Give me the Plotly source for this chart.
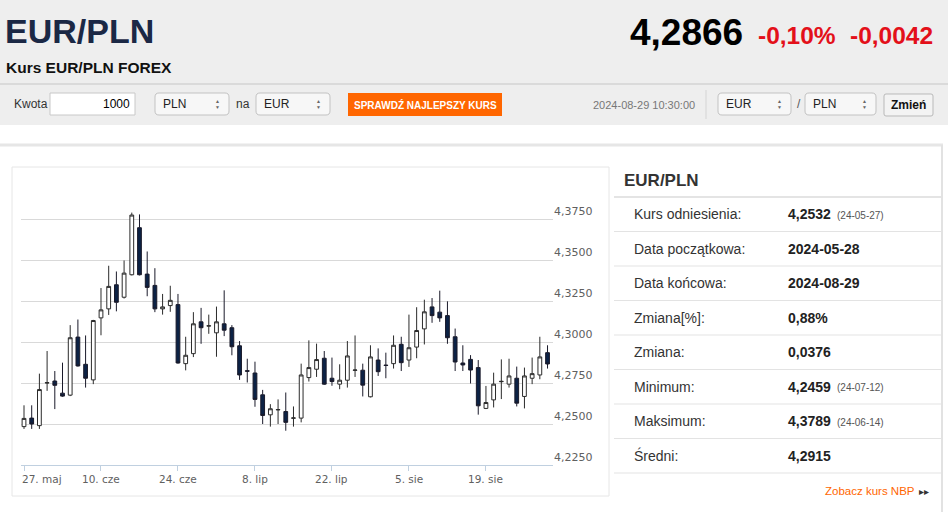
import plotly.graph_objects as go
import pandas as pd

W, H = 948, 512

# --- data ---
dates = [d.strftime("%Y-%m-%d") for d in pd.bdate_range("2024-05-27", "2024-08-29")]

opens = [4.2484, 4.2536, 4.2490, 4.2750, 4.2762, 4.2688, 4.2676, 4.3030, 4.2864, 4.2769,
         4.3147, 4.3202, 4.3349, 4.3273, 4.3410, 4.3697, 4.3414, 4.3345, 4.3202, 4.3222,
         4.3228, 4.2868, 4.2929, 4.3123, 4.3097, 4.3056, 4.3111, 4.3087, 4.2977, 4.2825,
         4.2811, 4.2678, 4.2556, 4.2586, 4.2576, 4.2535, 4.2536, 4.2783, 4.2834, 4.2901,
         4.2779, 4.2743, 4.2767, 4.2827, 4.2828, 4.2666, 4.2890, 4.2859, 4.2868, 4.2986,
         4.2890, 4.2969, 4.3080, 4.3214, 4.3182, 4.3161, 4.3032, 4.2872, 4.2894, 4.2844,
         4.2595, 4.2647, 4.2758, 4.2743, 4.2779, 4.2668, 4.2779, 4.2799, 4.2935]
highs = [4.2614, 4.2614, 4.2807, 4.2945, 4.2823, 4.2874, 4.3103, 4.3137, 4.3040, 4.3135,
         4.3329, 4.3465, 4.3430, 4.3497, 4.3789, 4.3778, 4.3552, 4.3450, 4.3293, 4.3343,
         4.3293, 4.3032, 4.3182, 4.3208, 4.3167, 4.3216, 4.3315, 4.3103, 4.3006, 4.2898,
         4.2880, 4.2708, 4.2621, 4.2650, 4.2692, 4.2607, 4.2868, 4.3010, 4.2990, 4.2945,
         4.2905, 4.2864, 4.3006, 4.3040, 4.2868, 4.2980, 4.2961, 4.2935, 4.3040, 4.3032,
         4.3167, 4.3212, 4.3258, 4.3268, 4.3313, 4.3248, 4.3082, 4.2980, 4.2920, 4.2890,
         4.2732, 4.2813, 4.2894, 4.2898, 4.2850, 4.2844, 4.2905, 4.3032, 4.2980]
lows = [4.2470, 4.2470, 4.2470, 4.2702, 4.2591, 4.2666, 4.2670, 4.2850, 4.2722, 4.2743,
        4.3041, 4.3165, 4.3187, 4.3265, 4.3406, 4.3406, 4.3279, 4.3182, 4.3167, 4.3184,
        4.2868, 4.2827, 4.2908, 4.2989, 4.3050, 4.2910, 4.3036, 4.2919, 4.2769, 4.2753,
        4.2605, 4.2500, 4.2484, 4.2500, 4.2459, 4.2484, 4.2510, 4.2759, 4.2787, 4.2739,
        4.2733, 4.2712, 4.2722, 4.2787, 4.2668, 4.2662, 4.2793, 4.2779, 4.2838, 4.2823,
        4.2848, 4.2901, 4.2985, 4.3117, 4.3123, 4.2989, 4.2823, 4.2823, 4.2747, 4.2557,
        4.2591, 4.2601, 4.2652, 4.2722, 4.2607, 4.2595, 4.2743, 4.2773, 4.2838]
closes = [4.2534, 4.2500, 4.2710, 4.2752, 4.2736, 4.2670, 4.3026, 4.2854, 4.2779, 4.3131,
          4.3196, 4.3339, 4.3242, 4.3420, 4.3774, 4.3410, 4.3333, 4.3202, 4.3214, 4.3254,
          4.2872, 4.2919, 4.3111, 4.3087, 4.3099, 4.3123, 4.3072, 4.2971, 4.2799, 4.2822,
          4.2650, 4.2552, 4.2593, 4.2588, 4.2510, 4.2537, 4.2799, 4.2844, 4.2893, 4.2743,
          4.2759, 4.2767, 4.2915, 4.2829, 4.2737, 4.2909, 4.2819, 4.2857, 4.2980, 4.2874,
          4.2965, 4.3070, 4.3184, 4.3161, 4.3147, 4.3026, 4.2878, 4.2860, 4.2829, 4.2611,
          4.2631, 4.2743, 4.2760, 4.2793, 4.2627, 4.2793, 4.2807, 4.2909, 4.2866]

x_tick_idx = [0, 10, 20, 30, 40, 50, 60]
x_tick_text = ["27. maj", "10. cze", "24. cze", "8. lip", "22. lip", "5. sie", "19. sie"]
y_ticks = [4.225, 4.250, 4.275, 4.300, 4.325, 4.350, 4.375]

stat_labels = ["Kurs odniesienia:", "Data początkowa:", "Data końcowa:", "Zmiana[%]:",
               "Zmiana:", "Minimum:", "Maksimum:", "Średni:"]
stat_values = ["4,2532", "2024-05-28", "2024-08-29", "0,88%", "0,0376", "4,2459", "4,3789", "4,2915"]
stat_notes = ["(24-05-27)", "", "", "", "", "(24-07-12)", "(24-06-14)", ""]

FONT = "Liberation Sans, Arial, sans-serif"
CHART_FONT = "DejaVu Sans, Verdana, sans-serif"


def fx(x):
    return x / W


def fy(y):
    return 1 - y / H


def rect(x0, y0, x1, y1, fill="rgba(0,0,0,0)", line="rgba(0,0,0,0)", lw=1):
    return dict(type="rect", xref="paper", yref="paper", x0=fx(x0), x1=fx(x1),
                y0=fy(y1), y1=fy(y0), fillcolor=fill, line=dict(color=line, width=lw),
                layer="below")


def rrect(x0, y0, x1, y1, r, fill, line):
    # rounded rectangle drawn as a path in paper coords
    def p(x, y):
        return f"{fx(x):.5f},{fy(y):.5f}"
    d = (f"M {p(x0 + r, y0)} L {p(x1 - r, y0)} Q {p(x1, y0)} {p(x1, y0 + r)} "
         f"L {p(x1, y1 - r)} Q {p(x1, y1)} {p(x1 - r, y1)} L {p(x0 + r, y1)} "
         f"Q {p(x0, y1)} {p(x0, y1 - r)} L {p(x0, y0 + r)} Q {p(x0, y0)} {p(x0 + r, y0)} Z")
    return dict(type="path", xref="paper", yref="paper", path=d, fillcolor=fill,
                line=dict(color=line, width=1), layer="below")


def hline(x0, x1, y, color, lw=1):
    return dict(type="line", xref="paper", yref="paper", x0=fx(x0), x1=fx(x1),
                y0=fy(y), y1=fy(y), line=dict(color=color, width=lw), layer="below")


def vline(x, y0, y1, color, lw=1):
    return dict(type="line", xref="paper", yref="paper", x0=fx(x), x1=fx(x),
                y0=fy(y0), y1=fy(y1), line=dict(color=color, width=lw), layer="below")


def text(x, y, s, size, color="#333", bold=False, anchor="left", family=FONT):
    if bold:
        s = f"<b>{s}</b>"
    return dict(xref="paper", yref="paper", x=fx(x), y=fy(y), text=s, showarrow=False,
                xanchor=anchor, yanchor="middle", font=dict(size=size, color=color, family=family))


shapes = []
ann = []

# header band
shapes.append(rect(0, 0, W, 125, fill="#eeeeee"))
shapes.append(hline(0, W, 84, "#dadada", 2))
ann.append(text(3, 31, "EUR/PLN", 34, "#1b2845", bold=True))
ann.append(text(4, 67, "Kurs EUR/PLN FOREX", 15.5, "#111", bold=True))
ann.append(text(745, 32, "4,2866", 37, "#000", bold=True, anchor="right"))
ann.append(text(838, 35, "-0,10%", 24.5, "#e3101a", bold=True, anchor="right"))
ann.append(text(935, 35, "-0,0042", 24.5, "#e3101a", bold=True, anchor="right"))

# form row
ann.append(text(12, 104, "Kwota", 12, "#333"))
shapes.append(rect(50, 93, 135, 115, fill="#ffffff", line="#c8c8c8"))
ann.append(text(132, 104, "1000", 12, "#000", anchor="right"))
selects = [(155, 229, "PLN"), (256, 330, "EUR"), (718, 791, "EUR"), (805, 876, "PLN")]
for x0, x1, lab in selects:
    shapes.append(rrect(x0, 93, x1, 115, 4, "#f7f7f7", "#c2c2c2"))
    ann.append(text(x0 + 6, 104, lab, 12, "#222"))
    ann.append(text(x1 - 7, 101, "▲", 5, "#666", anchor="right"))
    ann.append(text(x1 - 7, 107, "▼", 5, "#666", anchor="right"))
ann.append(text(234, 104, "na", 12, "#333"))
ann.append(text(795, 104, "/", 12, "#555"))
shapes.append(rect(348, 93, 502, 116, fill="#ff6600"))
ann.append(text(425, 104.5, "SPRAWDŹ NAJLEPSZY KURS", 10, "#ffffff", bold=True, anchor="center"))
ann.append(text(697, 105, "2024-08-29 10:30:00", 11, "#777", anchor="right"))
shapes.append(vline(706, 90, 119, "#d4d4d4"))
shapes.append(rrect(884, 94, 933, 116, 2, "#f3f3f3", "#b9b9b9"))
ann.append(text(908.5, 105, "Zmień", 12, "#111", bold=True, anchor="center"))

# content panel
shapes.append(hline(0, 943, 145, "#e6e6e6", 3))
shapes.append(vline(942, 145, H, "#e2e2e2", 2))
shapes.append(rect(12, 167, 609, 496, line="#e6e6e6"))

# stats table
ann.append(text(622, 180, "EUR/PLN", 17, "#333", bold=True))
shapes.append(hline(614, 941, 197, "#c9c9c9"))
for i, (lab, val, note) in enumerate(zip(stat_labels, stat_values, stat_notes)):
    yc = 214 + 34.5 * i
    ann.append(text(632, yc, lab, 14, "#333"))
    ann.append(text(786, yc, val, 14, "#222", bold=True))
    if note:
        ann.append(text(835, yc + 1, note, 10, "#555"))
    shapes.append(hline(614, 941, yc + 17.5, "#e3e3e3"))
ann.append(text(823, 491, "Zobacz kurs NBP", 11.5, "#ff6600"))
ann.append(text(931, 491, "▸▸", 10, "#333", anchor="right"))

# x labels of the chart
for i, lab in zip(x_tick_idx, x_tick_text):
    first = i == x_tick_idx[0]
    ann.append(dict(xref="x", yref="paper", x=dates[i], y=fy(479), text=lab, showarrow=False,
                    xanchor="left" if first else "center", xshift=-4 if first else 0,
                    yanchor="middle", font=dict(size=10.5, color="#606060", family=CHART_FONT)))

fig = go.Figure()
fig.add_trace(go.Candlestick(
    x=dates, open=opens, high=highs, low=lows, close=closes,
    increasing=dict(fillcolor="#ffffff", line=dict(color="#2b2b2b", width=1)),
    decreasing=dict(fillcolor="#0c2245", line=dict(color="#1a1a2a", width=1)),
    whiskerwidth=0, showlegend=False,
))

fig.update_layout(
    width=W, height=H,
    margin=dict(l=0, r=0, t=0, b=0),
    paper_bgcolor="#ffffff", plot_bgcolor="#ffffff",
    separators=", ",
    showlegend=False,
    shapes=shapes,
    annotations=ann,
    boxgap=0.3,
    xaxis=dict(
        type="category", domain=[fx(21), fx(553)], range=[-0.39, 68.71],
        rangeslider=dict(visible=False), showgrid=False, zeroline=False,
        showline=True, linecolor="#c0d0e0", linewidth=1,
        tickvals=[dates[i] for i in x_tick_idx], showticklabels=False,
        ticks="outside", ticklen=5, tickcolor="#c0d0e0",
    ),
    yaxis=dict(
        domain=[fy(465), fy(202.6)], range=[4.225, 4.385], side="right",
        tickvals=y_ticks, tickformat=".4f", showgrid=True, gridcolor="#d9d9d9",
        gridwidth=1, zeroline=False, ticks="", ticklabelposition="outside top",
        tickfont=dict(size=11, color="#606060", family=CHART_FONT),
    ),
    font=dict(family=FONT),
)

# the page body has a default 8px margin; remove it so the figure fills the window
fig.write_html("out.html", config=dict(displayModeBar=False),
               post_script="document.body.style.margin='0px';document.body.style.overflow='hidden';")
